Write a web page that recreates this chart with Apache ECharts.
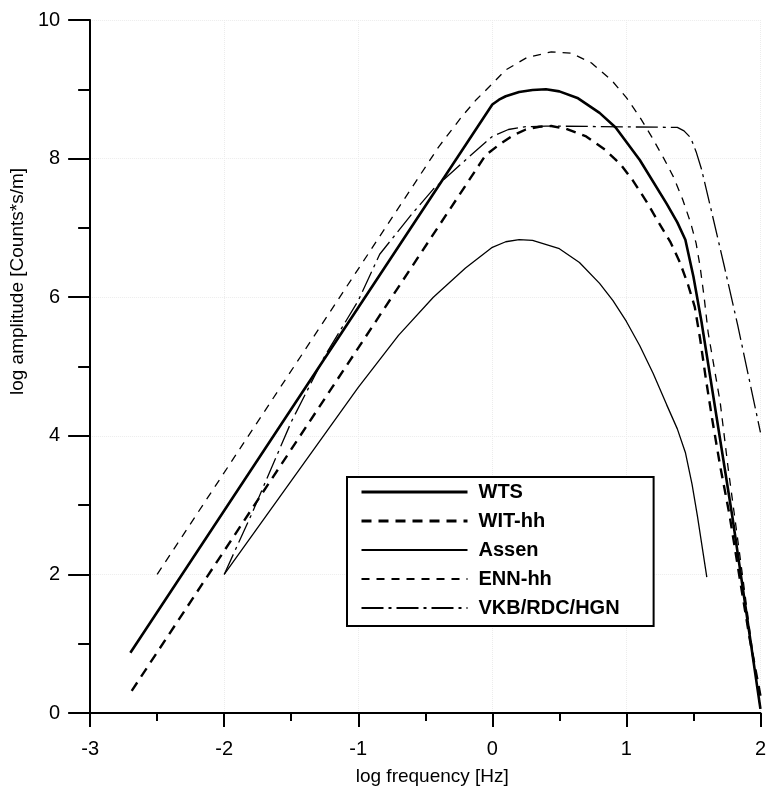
<!DOCTYPE html>
<html>
<head>
<meta charset="utf-8">
<script src="https://cdn.jsdelivr.net/npm/echarts@6/dist/echarts.min.js"></script>
<style>
	html, body { margin: 0; padding: 0; background: #fff; }
	#chart { width: 769px; height: 805px; }
</style>
</head>
<body>
<div id="chart"></div>
<script>
// values: [log frequency, log amplitude]
var wts = [[-2.7,0.87],[0,8.78],[0.05,8.85],[0.1,8.9],[0.2,8.96],[0.3,8.99],[0.4,9.0],[0.5,8.97],[0.64,8.87],[0.8,8.66],[0.92,8.45],[1.1,7.98],[1.3,7.35],[1.38,7.08],[1.44,6.83],[1.5,6.3],[1.56,5.65],[1.79,2.84],[2.0,0.06]]
var witHh = [[-2.69,0.32],[-0.05,8.05],[0.05,8.2],[0.15,8.33],[0.25,8.42],[0.35,8.46],[0.44,8.47],[0.55,8.43],[0.7,8.32],[0.84,8.13],[0.96,7.91],[1.05,7.68],[1.15,7.38],[1.24,7.08],[1.33,6.79],[1.4,6.5],[1.46,6.18],[1.51,5.86],[1.55,5.4],[1.59,4.86],[1.64,4.24],[1.7,3.56],[1.77,2.85],[1.85,1.89],[1.92,1.07],[2.0,0.25]]
var assen = [[-2.0,2.0],[-1.5,3.35],[-1.0,4.7],[-0.7,5.45],[-0.44,6.0],[-0.2,6.42],[0,6.72],[0.1,6.8],[0.2,6.83],[0.3,6.82],[0.5,6.7],[0.65,6.5],[0.8,6.2],[0.9,5.95],[1.0,5.65],[1.1,5.3],[1.2,4.9],[1.3,4.45],[1.38,4.1],[1.44,3.76],[1.49,3.3],[1.53,2.84],[1.6,1.96]]
var ennHh = [[-2.5,2.0],[-0.4,8.17],[-0.23,8.6],[-0.12,8.85],[0,9.08],[0.1,9.28],[0.26,9.46],[0.44,9.54],[0.59,9.52],[0.74,9.38],[0.89,9.13],[1.0,8.88],[1.1,8.6],[1.19,8.31],[1.28,8.0],[1.35,7.74],[1.42,7.41],[1.48,7.07],[1.52,6.78],[1.55,6.44],[1.58,6.0],[1.61,5.49],[1.7,4.48],[1.76,3.52],[1.81,2.8],[1.85,2.22],[1.92,1.2],[2.0,0.05]]
var vkb = [[-2.0,2.0],[-1.8,2.85],[-1.5,4.2],[-1.25,5.15],[-1.0,5.95],[-0.84,6.62],[-0.6,7.2],[-0.44,7.56],[-0.2,7.98],[0,8.32],[0.12,8.42],[0.25,8.46],[0.4,8.47],[1.38,8.45],[1.43,8.4],[1.48,8.3],[1.52,8.1],[1.56,7.85],[1.63,7.28],[1.73,6.45],[1.83,5.6],[2.0,4.05]]

var xTicks = [-3,-2,-1,0,1,2]
var yTicks = [0,2,4,6,8,10]

var chart = echarts.init(document.getElementById('chart'))
var font = 'Liberation Sans, Arial, sans-serif'

function line(name, data, width, dash){
	return {
		name: name,
		type: 'line',
		data: data,
		symbol: 'none',
		smooth: false,
		lineStyle: { color: '#000', width: width, type: dash },
		itemStyle: { color: '#000' },
		silent: true
	}
}

var option = {
	backgroundColor: '#fff',
	animation: false,
	grid: { left: 90, right: 6, top: 20, bottom: 92 },
	legend: {
		orient: 'vertical',
		left: 347,
		top: 477,
		padding: [5, 34, 8, 13],
		itemGap: 9,
		itemWidth: 106,
		itemHeight: 14,
		backgroundColor: '#fff',
		borderColor: '#000',
		borderWidth: 2,
		itemStyle: { opacity: 0 },
		textStyle: { fontFamily: font, fontSize: 20, fontWeight: 'bold', color: '#000', padding: [0, 0, 0, 6] },
		data: [
			{ name: 'WTS', lineStyle: { width: 3 } },
			{ name: 'WIT-hh', lineStyle: { width: 3 } },
			'Assen',
			'ENN-hh',
			'VKB/RDC/HGN'
		]
	},
	xAxis: {
		type: 'value',
		min: xTicks[0],
		max: xTicks[xTicks.length-1],
		interval: 1,
		name: 'log frequency [Hz]',
		nameLocation: 'middle',
		nameGap: 54,
		nameTextStyle: { fontFamily: font, fontSize: 19, color: '#000', padding: [0, 0, 0, 14] },
		axisLine: { onZero: false, lineStyle: { color: '#000', width: 2 } },
		axisTick: { length: 14, lineStyle: { color: '#000', width: 2 } },
		minorTick: { show: true, splitNumber: 2, length: 8, lineStyle: { color: '#000', width: 2 } },
		axisLabel: { fontFamily: font, fontSize: 20, color: '#000', margin: 26 },
		splitLine: { show: true, lineStyle: { color: '#ececec', type: 'dotted', width: 1 } }
	},
	yAxis: {
		type: 'value',
		min: yTicks[0],
		max: yTicks[yTicks.length-1],
		interval: 2,
		name: 'log amplitude [Counts*s/m]',
		nameLocation: 'middle',
		nameGap: 58,
		nameTextStyle: { fontFamily: font, fontSize: 19, color: '#000', padding: [0, 0, 0, 170] },
		axisLine: { show: true, onZero: false, lineStyle: { color: '#000', width: 2 } },
		axisTick: { show: true, length: 22, lineStyle: { color: '#000', width: 2 } },
		minorTick: { show: true, splitNumber: 2, length: 12, lineStyle: { color: '#000', width: 2 } },
		axisLabel: { fontFamily: font, fontSize: 20, color: '#000', margin: 30 },
		splitLine: { show: true, lineStyle: { color: '#ececec', type: 'dotted', width: 1 } }
	},
	series: [
		line('WTS', wts, 2.6, 'solid'),
		line('WIT-hh', witHh, 2.4, [10, 7]),
		line('Assen', assen, 1.3, 'solid'),
		line('ENN-hh', ennHh, 1.3, [8, 7]),
		line('VKB/RDC/HGN', vkb, 1.3, [22, 5, 3, 5])
	]
}
chart.setOption(option)
</script>
</body>
</html>
